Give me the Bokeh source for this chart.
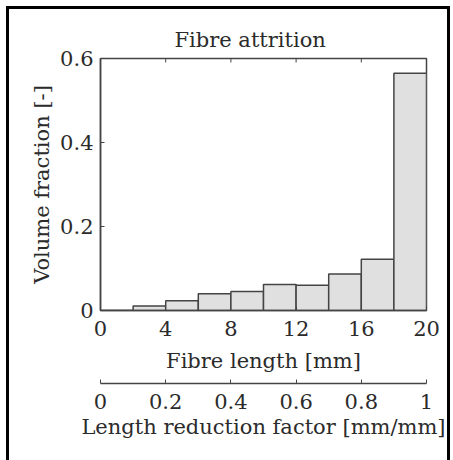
import math
from bokeh.plotting import figure
from bokeh.models import Range1d, LinearAxis, FixedTicker, ColumnDataSource, Title
from bokeh.embed import file_html
from bokeh.resources import INLINE

# ---- data ----
bin_left = [0, 2, 4, 6, 8, 10, 12, 14, 16, 18]
bin_right = [2, 4, 6, 8, 10, 12, 14, 16, 18, 20]
volume_fraction = [0.0, 0.011, 0.023, 0.040, 0.045, 0.062, 0.060, 0.087, 0.122, 0.565]
x_ticks = [0, 4, 8, 12, 16, 20]
y_ticks = [0, 0.2, 0.4, 0.6]
factor_ticks = [0, 0.2, 0.4, 0.6, 0.8, 1]
title_text = "Fibre attrition"
x_label = "Fibre length [mm]"
y_label = "Volume fraction [-]"
factor_label = "Length reduction factor [mm/mm]"

FONT = "DejaVu Serif"
FS = "21px"
TXT = "#2b2b2b"
LINE = "#444444"

p = figure(width=444, height=454, output_backend="svg", toolbar_location=None,
           x_range=Range1d(0, 20), y_range=Range1d(0, 0.6),
           min_border_left=91, min_border_right=27, min_border_top=49,
           min_border_bottom=153, x_axis_type=None, y_axis_type=None)
p.margin = (6, 0, 0, 6)
p.styles = {"border-left": "3px solid black", "border-top": "3px solid black",
            "border-right": "3px solid black"}
p.grid.visible = False
p.outline_line_color = LINE
p.outline_line_width = 1.5
p.background_fill_color = "white"
p.border_fill_color = "white"

p.title.text = title_text
p.title.align = "left"
p.title.offset = 74
p.title.text_font = FONT
p.title.text_font_size = FS
p.title.text_font_style = "normal"
p.title.text_color = TXT
p.title.standoff = 13

src = ColumnDataSource(dict(left=bin_left, right=bin_right, top=volume_fraction,
                            bottom=[0] * len(bin_left)))
p.quad(left="left", right="right", top="top", bottom="bottom", source=src,
       fill_color="#e0e0e0", line_color=LINE, line_width=1.5)

# inward ticks on the top edge of the box
top_src = ColumnDataSource(dict(x=x_ticks, y=[y_ticks[-1]] * len(x_ticks)))
p.scatter(x="x", y="y", source=top_src, marker="dash", size=8, angle=math.pi / 2,
          line_color=LINE, line_width=1)


def style_axis(ax):
    ax.axis_line_color = LINE
    ax.axis_line_width = 1.5
    ax.major_tick_line_color = LINE
    ax.major_tick_line_width = 1
    ax.major_tick_in = 4
    ax.major_tick_out = 0
    ax.minor_tick_line_color = None
    ax.major_label_text_font = FONT
    ax.major_label_text_font_size = FS
    ax.major_label_text_color = TXT
    ax.axis_label_text_font = FONT
    ax.axis_label_text_font_size = FS
    ax.axis_label_text_font_style = "normal"
    ax.axis_label_text_color = TXT


# left axis
yax = LinearAxis(ticker=FixedTicker(ticks=y_ticks), axis_label=y_label)
style_axis(yax)
yax.major_label_overrides = {0: "0"}
yax.major_label_standoff = 7
yax.axis_label_standoff = 3
p.add_layout(yax, "left")

# main bottom axis (ticks + labels)
xax = LinearAxis(ticker=FixedTicker(ticks=x_ticks))
style_axis(xax)
xax.major_label_standoff = 10
p.add_layout(xax, "below")

# main axis label as a below-panel title (gives room before the secondary axis)
xlab = Title(text=x_label, align="center", vertical_align="middle", standoff=19,
             text_font=FONT, text_font_size=FS, text_font_style="normal",
             text_color=TXT)
p.add_layout(xlab, "below")

# secondary axis
p.extra_x_ranges = {"factor": Range1d(0, 1)}
fax = LinearAxis(x_range_name="factor", ticker=FixedTicker(ticks=factor_ticks),
                 axis_label=factor_label)
style_axis(fax)
fax.major_label_overrides = {0: "0", 1: "1"}
fax.major_label_standoff = 10
fax.axis_label_standoff = 3
p.add_layout(fax, "below")

open("out.html", "w").write(file_html(p, INLINE))
